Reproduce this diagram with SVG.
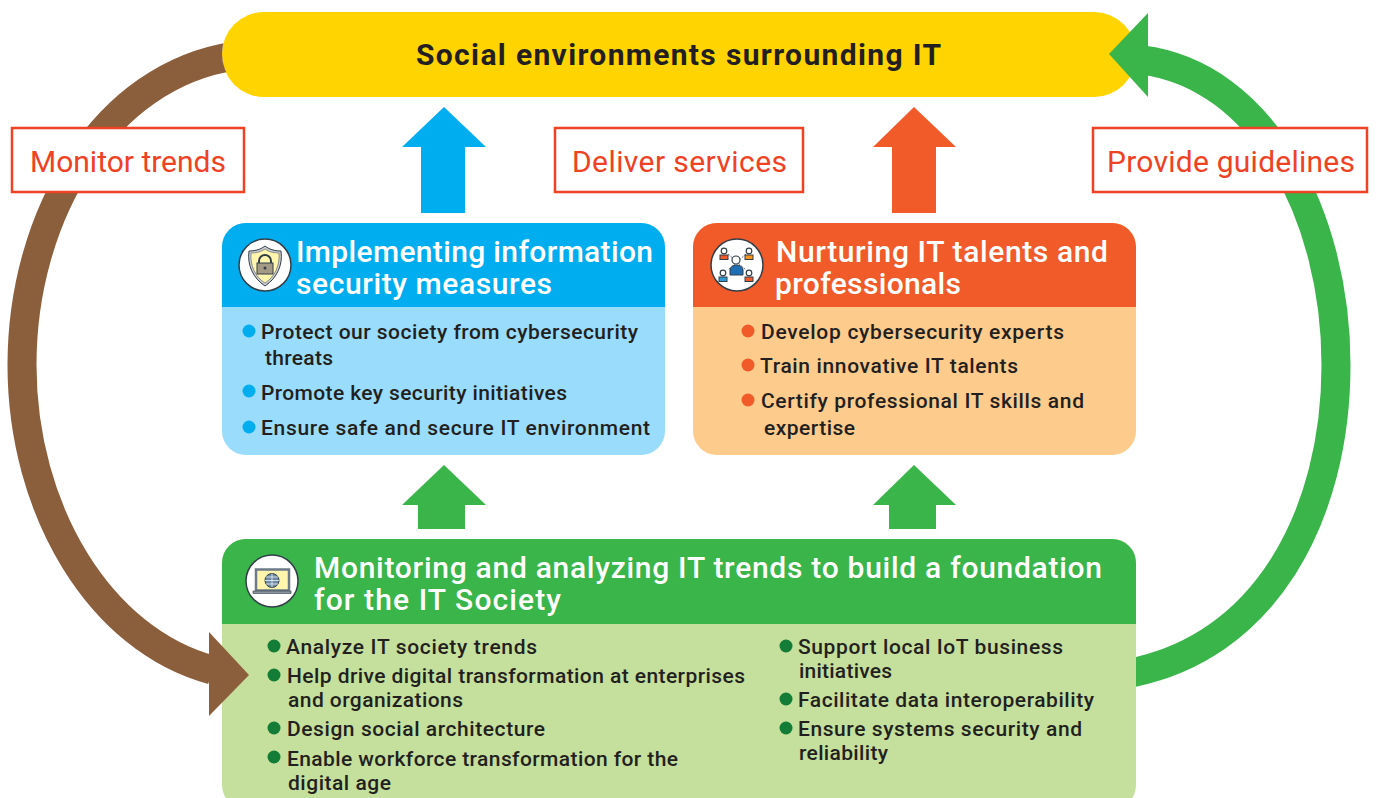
<svg xmlns="http://www.w3.org/2000/svg" width="1376" height="798" viewBox="0 0 1376 798">
<style>
text{font-family:Roboto,"Liberation Sans",sans-serif;fill:#231f20}
.h{font-size:30px;font-weight:500;fill:#fff}
.b{font-size:21px;font-weight:500}
.l{font-size:30px;fill:#ef4123;font-weight:400}
.box{fill:#fff;stroke:#ef4123;stroke-width:2.5}
.ic{fill:#fff;stroke:#333f48;stroke-width:1.5}
.p{fill:#fff;stroke:#333f48;stroke-width:1.2}
</style>
<defs>
<clipPath id="cb"><path clip-rule="evenodd" d="M0,0 H600 V798 H0 Z M306,54 a42,42 0 1 1 -84,0 a42,42 0 1 1 84,0 Z"/></clipPath>
<clipPath id="cg"><rect x="1136" y="0" width="240" height="798"/></clipPath>
</defs>
<rect width="1376" height="798" fill="#fff"/>
<g id="top">
<rect x="222" y="12" width="914" height="85" rx="42" fill="#ffd400"/>
<text x="416" y="65" textLength="525" lengthAdjust="spacing" style="font-size:30px;font-weight:700">Social environments surrounding IT</text>
</g>
<g id="security">
<rect x="222" y="223" width="443" height="232" rx="24" fill="#9adcfb"/>
<path d="M222,307 V247 a24,24 0 0 1 24,-24 H641 a24,24 0 0 1 24,24 V307 Z" fill="#00aeef"/>
<circle class="ic" cx="265" cy="265" r="26"/>
<path d="M265,246 C270,250 276,251 281,251 C283,265 277,278 265,286 C253,278 247,265 249,251 C254,251 260,250 265,246 Z" fill="#c9ced3" stroke="#333f48" stroke-width="1"/>
<path d="M265,249 C269,252 274,253 279,253 C280,265 275,277 265,283 C255,277 250,265 251,253 C256,253 261,252 265,249 Z" fill="#fff5ad" stroke="#556" stroke-width=".6"/>
<path d="M259,263 v-2 a6,6 0 0 1 12,0 v2" fill="none" stroke="#333f48" stroke-width="2"/>
<rect x="257" y="263" width="16" height="11" fill="#a39a86" stroke="#333f48"/>
<circle cx="265" cy="268" r="1.5" fill="#333f48"/>
<text class="h" x="296" y="262" textLength="357">Implementing information</text>
<text class="h" x="296" y="294" textLength="256">security measures</text>
<circle cx="249" cy="331" r="6.5" fill="#00aeef"/>
<text class="b" x="261" y="339" textLength="377">Protect our society from cybersecurity</text>
<text class="b" x="265" y="365" textLength="68">threats</text>
<circle cx="249" cy="391" r="6.5" fill="#00aeef"/>
<text class="b" x="261" y="400" textLength="306">Promote key security initiatives</text>
<circle cx="249" cy="427" r="6.5" fill="#00aeef"/>
<text class="b" x="261" y="435" textLength="389">Ensure safe and secure IT environment</text>
</g>
<g id="talents">
<rect x="693" y="223" width="443" height="232" rx="24" fill="#fdcb8b"/>
<path d="M693,307 V247 a24,24 0 0 1 24,-24 H1112 a24,24 0 0 1 24,24 V307 Z" fill="#f15a29"/>
<circle class="ic" cx="737" cy="265" r="26"/>
<path d="M728,254 L746,270 M746,254 L728,270" stroke="#333f48" stroke-width=".8" stroke-dasharray="2 1.5"/>
<path d="M730,275 V270 a6.500,5 0 0 1 13,0 V275 Z" fill="#1f6fb5" stroke="#333f48"/>
<circle class="p" cx="736" cy="260" r="4"/>
<circle class="p" cx="724" cy="251" r="2.800"/><rect x="720" y="255" width="8" height="4.500" fill="#f15a29" stroke="#333f48"/>
<circle class="p" cx="749" cy="251" r="2.800"/><rect x="745" y="255" width="8" height="4.500" fill="#f7941d" stroke="#333f48"/>
<circle class="p" cx="723" cy="273" r="2.800"/><rect x="719" y="277" width="8" height="4.500" fill="#2e9bd6" stroke="#333f48"/>
<circle class="p" cx="749" cy="273" r="2.800"/><rect x="745" y="277" width="8" height="4.500" fill="#f15a29" stroke="#333f48"/>
<text class="h" x="776" y="262" textLength="332">Nurturing IT talents and</text>
<text class="h" x="775" y="294" textLength="186">professionals</text>
<circle cx="748" cy="331" r="6.5" fill="#f15a29"/>
<text class="b" x="761" y="339" textLength="303">Develop cybersecurity experts</text>
<circle cx="748" cy="365" r="6.5" fill="#f15a29"/>
<text class="b" x="760" y="373" textLength="258">Train innovative IT talents</text>
<circle cx="748" cy="400" r="6.5" fill="#f15a29"/>
<text class="b" x="761" y="408" textLength="323">Certify professional IT skills and</text>
<text class="b" x="764" y="435" textLength="91">expertise</text>
</g>
<g id="foundation">
<rect x="222" y="539" width="914" height="270" rx="24" fill="#c5df9c"/>
<path d="M222,624 V563 a24,24 0 0 1 24,-24 H1112 a24,24 0 0 1 24,24 V624 Z" fill="#39b54a"/>
<circle class="ic" cx="272" cy="581" r="26"/>
<rect x="256" y="569.500" width="33" height="21" fill="#fff5ad" stroke="#6d7b88" stroke-width="2.500"/>
<rect x="253" y="591" width="38" height="2.500" fill="#8a94a0" stroke="#333f48" stroke-width=".6"/>
<circle cx="272" cy="580.500" r="7" fill="#6d8ba5" stroke="#333f48"/>
<path d="M265,580.500 h14 M272,573.500 v14 M266,577 h12 M266,584 h12" stroke="#fff" stroke-width=".7" fill="none"/>
<text class="h" x="314" y="578" textLength="788">Monitoring and analyzing IT trends to build a foundation</text>
<text class="h" x="314" y="610" textLength="247">for the IT Society</text>
<g fill="#137c36"><circle cx="274" cy="646" r="6.5"/><circle cx="274" cy="675" r="6.5"/><circle cx="274" cy="728" r="6.5"/><circle cx="274" cy="757" r="6.5"/><circle cx="786" cy="646" r="6.5"/><circle cx="786" cy="699" r="6.5"/><circle cx="786" cy="728" r="6.5"/></g>
<text class="b" x="286" y="654" textLength="251">Analyze IT society trends</text>
<text class="b" x="287" y="683" textLength="458">Help drive digital transformation at enterprises</text>
<text class="b" x="288" y="707" textLength="175">and organizations</text>
<text class="b" x="287" y="736" textLength="258">Design social architecture</text>
<text class="b" x="287" y="766" textLength="391">Enable workforce transformation for the</text>
<text class="b" x="288" y="790" textLength="103">digital age</text>
<text class="b" x="798" y="654" textLength="265">Support local IoT business</text>
<text class="b" x="799" y="678" textLength="93">initiatives</text>
<text class="b" x="798" y="707" textLength="296">Facilitate data interoperability</text>
<text class="b" x="798" y="736" textLength="284">Ensure systems security and</text>
<text class="b" x="799" y="760" textLength="89">reliability</text>
</g>
<g id="connectors">
<path clip-path="url(#cb)" d="M235,56 C105,75 22,215 22,365 C22,510 100,640 212,670" fill="none" stroke="#8b5e3c" stroke-width="29"/>
<polygon points="209,632 249,675 209,716" fill="#8b5e3c"/>
<path clip-path="url(#cg)" d="M1142,60 C1262,75 1336,215 1336,365 C1336,515 1265,650 1125,674" fill="none" stroke="#39b54a" stroke-width="29"/>
<polygon points="1148,13 1109,54 1148,97" fill="#39b54a"/>
<polygon points="444,107 486,147 465,147 465,213 421,213 421,147 402,147" fill="#00aeef"/>
<polygon points="914,107 956,147 936,147 936,213 892,213 892,147 873,147" fill="#f15a29"/>
<polygon points="444,465 486,505 465,505 465,529 418,529 418,505 402,505" fill="#39b54a"/>
<polygon points="914,465 956,505 936,505 936,529 889,529 889,505 873,505" fill="#39b54a"/>
</g>
<g id="label-monitor"><rect class="box" x="12" y="128" width="232" height="64"/><text class="l" x="30" y="172" textLength="196">Monitor trends</text></g>
<g id="label-deliver"><rect class="box" x="555" y="128" width="248" height="64"/><text class="l" x="572" y="172" textLength="215">Deliver services</text></g>
<g id="label-guidelines"><rect class="box" x="1093" y="128" width="274" height="64"/><text class="l" x="1107" y="172" textLength="248">Provide guidelines</text></g>
</svg>
